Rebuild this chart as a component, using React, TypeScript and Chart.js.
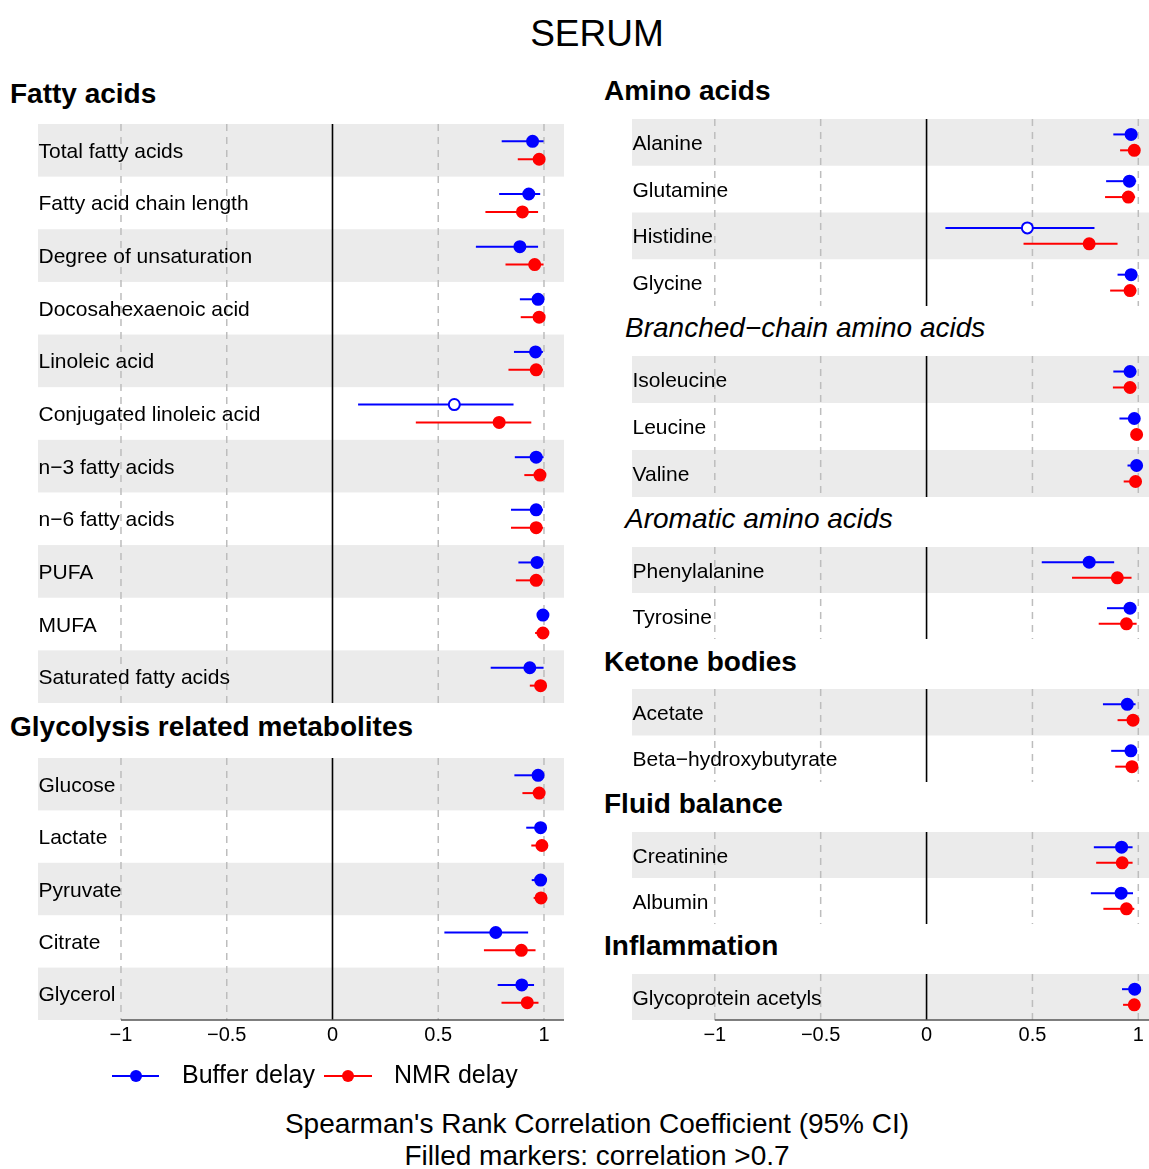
import React, { useEffect, useRef } from "react";
import { Chart, registerables } from "chart.js";
Chart.register(...registerables);

const BLUE = "#0000FF";
const RED = "#FF0000";
const FONT = "'Liberation Sans', Arial, Helvetica, sans-serif";

// ---------- data: [lower CI, estimate, upper CI] ----------
const fattyLabels = ["Total fatty acids", "Fatty acid chain length", "Degree of unsaturation", "Docosahexaenoic acid", "Linoleic acid", "Conjugated linoleic acid", "n\u22123 fatty acids", "n\u22126 fatty acids", "PUFA", "MUFA", "Saturated fatty acids"];
const fattyBuffer = [[0.80, 0.946, 0.998], [0.788, 0.928, 0.982], [0.678, 0.886, 0.972], [0.886, 0.972, 0.998], [0.858, 0.96, 0.995], [0.121, 0.576, 0.856], [0.862, 0.963, 0.998], [0.844, 0.963, 0.995], [0.879, 0.967, 0.997], [0.985, 0.995, 0.999], [0.748, 0.933, 0.998]];
const fattyNmr = [[0.876, 0.977, 0.995], [0.723, 0.898, 0.972], [0.818, 0.956, 0.998], [0.89, 0.977, 0.998], [0.832, 0.963, 0.995], [0.394, 0.788, 0.94], [0.907, 0.981, 0.998], [0.844, 0.963, 0.995], [0.867, 0.963, 0.995], [0.958, 0.995, 0.999], [0.933, 0.984, 0.999]];

const glycoLabels = ["Glucose", "Lactate", "Pyruvate", "Citrate", "Glycerol"];
const glycoBuffer = [[0.86, 0.972, 0.998], [0.916, 0.984, 0.999], [0.942, 0.984, 0.999], [0.529, 0.772, 0.925], [0.781, 0.895, 0.953]];
const glycoNmr = [[0.898, 0.977, 0.998], [0.94, 0.99, 0.999], [0.951, 0.986, 0.999], [0.716, 0.893, 0.96], [0.799, 0.921, 0.974]];

const aminoLabels = ["Alanine", "Glutamine", "Histidine", "Glycine"];
const aminoBuffer = [[0.882, 0.966, 0.995], [0.848, 0.958, 0.99], [0.089, 0.476, 0.793], [0.902, 0.966, 0.995]];
const aminoNmr = [[0.914, 0.981, 0.998], [0.843, 0.953, 0.985], [0.458, 0.768, 0.902], [0.867, 0.961, 0.99]];

const branchedLabels = ["Isoleucine", "Leucine", "Valine"];
const branchedBuffer = [[0.882, 0.961, 0.99], [0.911, 0.981, 0.998], [0.949, 0.992, 0.999]];
const branchedNmr = [[0.88, 0.961, 0.99], [0.985, 0.992, 0.999], [0.931, 0.987, 0.998]];

const aromaticLabels = ["Phenylalanine", "Tyrosine"];
const aromaticBuffer = [[0.544, 0.768, 0.886], [0.852, 0.961, 0.99]];
const aromaticNmr = [[0.687, 0.901, 0.968], [0.813, 0.944, 0.992]];

const ketoneLabels = ["Acetate", "Beta\u2212hydroxybutyrate"];
const ketoneBuffer = [[0.833, 0.948, 0.987], [0.872, 0.965, 0.993]];
const ketoneNmr = [[0.902, 0.975, 0.997], [0.891, 0.97, 0.995]];

const fluidLabels = ["Creatinine", "Albumin"];
const fluidBuffer = [[0.79, 0.921, 0.973], [0.776, 0.919, 0.975]];
const fluidNmr = [[0.801, 0.924, 0.973], [0.835, 0.944, 0.981]];

const inflamLabels = ["Glycoprotein acetyls"];
const inflamBuffer = [[0.923, 0.983, 0.998]];
const inflamNmr = [[0.928, 0.981, 0.998]];

const tickValues = [-1, -0.5, 0, 0.5, 1];
const tickLabels = ["\u22121", "\u22120.5", "0", "0.5", "1"];
const threshold = 0.7;
const seriesNames = ["Buffer delay", "NMR delay"];

type Row = number[];
interface PanelProps {
  left: number; top: number; width: number; height: number;
  xMin: number; xMax: number; axis?: boolean;
  labels: string[]; buffer: Row[]; nmr: Row[];
}

const AXIS_PAD = 45;

function Panel(p: PanelProps) {
  const ref = useRef<HTMLCanvasElement | null>(null);
  useEffect(() => {
    if (!ref.current) return;
    const n = p.labels.length;
    const off = 0.17;
    const panelPlugin = {
      id: "panelDeco",
      beforeDatasetsDraw(chart: any) {
        const ctx = chart.ctx;
        const { left, right, top, bottom } = chart.chartArea;
        const xs = chart.scales.x;
        const ys = chart.scales.y;
        ctx.save();
        // bands
        ctx.fillStyle = "#EBEBEB";
        for (let i = 0; i < n; i += 2) {
          const a = ys.getPixelForValue(i - 0.5);
          const b = ys.getPixelForValue(i + 0.5);
          ctx.fillRect(left, Math.min(a, b), right - left, Math.abs(b - a));
        }
        // dashed grid
        ctx.strokeStyle = "#BDBDBD";
        ctx.lineWidth = 1.5;
        ctx.setLineDash([7, 6]);
        for (const v of tickValues) {
          if (v === 0) continue;
          const x = xs.getPixelForValue(v);
          ctx.beginPath();
          ctx.moveTo(x, top);
          ctx.lineTo(x, bottom);
          ctx.stroke();
        }
        ctx.setLineDash([]);
        // zero line
        ctx.strokeStyle = "#000";
        ctx.lineWidth = 1.6;
        const x0 = xs.getPixelForValue(0);
        ctx.beginPath();
        ctx.moveTo(x0, top);
        ctx.lineTo(x0, bottom);
        ctx.stroke();
        // labels
        ctx.fillStyle = "#000";
        ctx.font = `21px ${FONT}`;
        ctx.textAlign = "left";
        ctx.textBaseline = "alphabetic";
        p.labels.forEach((lab, i) => {
          const y = ys.getPixelForValue(i);
          ctx.fillText(lab, left + 0.5, y + 7.5);
        });
        // error bars
        ctx.lineWidth = 2;
        const bars = (rows: Row[], color: string, dy: number) => {
          ctx.strokeStyle = color;
          rows.forEach((r, i) => {
            const y = ys.getPixelForValue(i + dy);
            ctx.beginPath();
            ctx.moveTo(xs.getPixelForValue(r[0]), y);
            ctx.lineTo(xs.getPixelForValue(r[2]), y);
            ctx.stroke();
          });
        };
        bars(p.buffer, BLUE, -off);
        bars(p.nmr, RED, off);
        ctx.restore();
      },
      afterDraw(chart: any) {
        if (!p.axis) return;
        const ctx = chart.ctx;
        const { right, bottom } = chart.chartArea;
        const xs = chart.scales.x;
        ctx.save();
        ctx.strokeStyle = "#555";
        ctx.lineWidth = 1.5;
        ctx.beginPath();
        ctx.moveTo(xs.getPixelForValue(tickValues[0]), bottom);
        ctx.lineTo(right, bottom);
        ctx.stroke();
        ctx.fillStyle = "#000";
        ctx.font = `20px ${FONT}`;
        ctx.textAlign = "center";
        ctx.textBaseline = "alphabetic";
        tickValues.forEach((v, i) => {
          ctx.fillText(tickLabels[i], xs.getPixelForValue(v), bottom + 21);
        });
        ctx.restore();
      },
    };
    const ds = (rows: Row[], color: string, dy: number) => ({
      data: rows.map((r, i) => ({ x: r[1], y: i + dy })),
      showLine: false,
      pointRadius: 5.5,
      pointHoverRadius: 5.5,
      pointBorderWidth: 2,
      pointBorderColor: color,
      pointBackgroundColor: rows.map((r) => (r[1] > threshold ? color : "#FFFFFF")),
      clip: false as any,
    });
    const chart = new Chart(ref.current, {
      type: "scatter",
      data: { datasets: [ds(p.buffer, BLUE, -off), ds(p.nmr, RED, off)] as any },
      options: {
        animation: false,
        responsive: false,
        devicePixelRatio: 1,
        events: [],
        layout: { autoPadding: false, padding: { left: 0, right: 0, top: 0, bottom: p.axis ? AXIS_PAD : 0 } },
        scales: {
          x: { type: "linear", min: p.xMin, max: p.xMax, display: false },
          y: { type: "linear", min: -0.5, max: n - 0.5, reverse: true, display: false },
        },
        plugins: { legend: { display: false }, tooltip: { enabled: false } },
      } as any,
      plugins: [panelPlugin],
    });
    return () => chart.destroy();
  }, []);
  const h = p.height + (p.axis ? AXIS_PAD : 0);
  return (
    <canvas
      ref={ref}
      width={p.width}
      height={h}
      style={{ position: "absolute", left: p.left, top: p.top, width: p.width, height: h }}
    />
  );
}

function Txt(props: { x: number; base: number; fs: number; text: string; weight?: string; italic?: boolean; center?: boolean }) {
  const { x, base, fs, text, weight, italic, center } = props;
  return (
    <div
      style={{
        position: "absolute",
        left: x,
        top: base - 0.8465 * fs,
        fontFamily: FONT,
        fontSize: fs,
        lineHeight: `${fs}px`,
        fontWeight: weight || "normal",
        fontStyle: italic ? "italic" : "normal",
        whiteSpace: "nowrap",
        color: "#000",
        transform: center ? "translateX(-50%)" : undefined,
      }}
    >
      {text}
    </div>
  );
}

function LegendItem(props: { x0: number; x1: number; y: number; color: string; tx: number; label: string }) {
  const { x0, x1, y, color, tx, label } = props;
  const cx = (x0 + x1) / 2;
  return (
    <>
      <div style={{ position: "absolute", left: x0, top: y - 1, width: x1 - x0, height: 2, background: color }} />
      <div style={{ position: "absolute", left: cx - 6, top: y - 6, width: 12, height: 12, borderRadius: "50%", background: color }} />
      <Txt x={tx} base={y + 7} fs={25} text={label} />
    </>
  );
}

const L = { left: 38, width: 526, xMin: -1.3924, xMax: 1.0946 };
const R = { left: 632, width: 517, xMin: -1.391, xMax: 1.0505 };

export default function App() {
  return (
    <div style={{ position: "absolute", left: 0, top: 0, width: 1149, height: 1169, background: "#fff", overflow: "hidden" }}>
      <Txt x={597} base={46} fs={37} text="SERUM" center />

      <Txt x={10} base={104} fs={28} text="Fatty acids" weight="bold" />
      <Panel {...L} top={124} height={579} labels={fattyLabels} buffer={fattyBuffer} nmr={fattyNmr} />

      <Txt x={10} base={737} fs={28} text="Glycolysis related metabolites" weight="bold" />
      <Panel {...L} top={758} height={262} axis labels={glycoLabels} buffer={glycoBuffer} nmr={glycoNmr} />

      <Txt x={604} base={101} fs={28} text="Amino acids" weight="bold" />
      <Panel {...R} top={119} height={187} labels={aminoLabels} buffer={aminoBuffer} nmr={aminoNmr} />

      <Txt x={625} base={338} fs={28} text={"Branched\u2212chain amino acids"} italic />
      <Panel {...R} top={356} height={141} labels={branchedLabels} buffer={branchedBuffer} nmr={branchedNmr} />

      <Txt x={625} base={529} fs={28} text="Aromatic amino acids" italic />
      <Panel {...R} top={547} height={92} labels={aromaticLabels} buffer={aromaticBuffer} nmr={aromaticNmr} />

      <Txt x={604} base={672} fs={28} text="Ketone bodies" weight="bold" />
      <Panel {...R} top={689} height={93} labels={ketoneLabels} buffer={ketoneBuffer} nmr={ketoneNmr} />

      <Txt x={604} base={814} fs={28} text="Fluid balance" weight="bold" />
      <Panel {...R} top={832} height={92} labels={fluidLabels} buffer={fluidBuffer} nmr={fluidNmr} />

      <Txt x={604} base={956} fs={28} text="Inflammation" weight="bold" />
      <Panel {...R} top={974} height={46} axis labels={inflamLabels} buffer={inflamBuffer} nmr={inflamNmr} />

      <LegendItem x0={112} x1={159} y={1076} color={BLUE} tx={182} label={seriesNames[0]} />
      <LegendItem x0={324} x1={372} y={1076} color={RED} tx={394} label={seriesNames[1]} />

      <Txt x={597} base={1134} fs={28} text="Spearman's Rank Correlation Coefficient (95% CI)" center />
      <Txt x={597} base={1166} fs={28} text="Filled markers: correlation >0.7" center />
    </div>
  );
}
